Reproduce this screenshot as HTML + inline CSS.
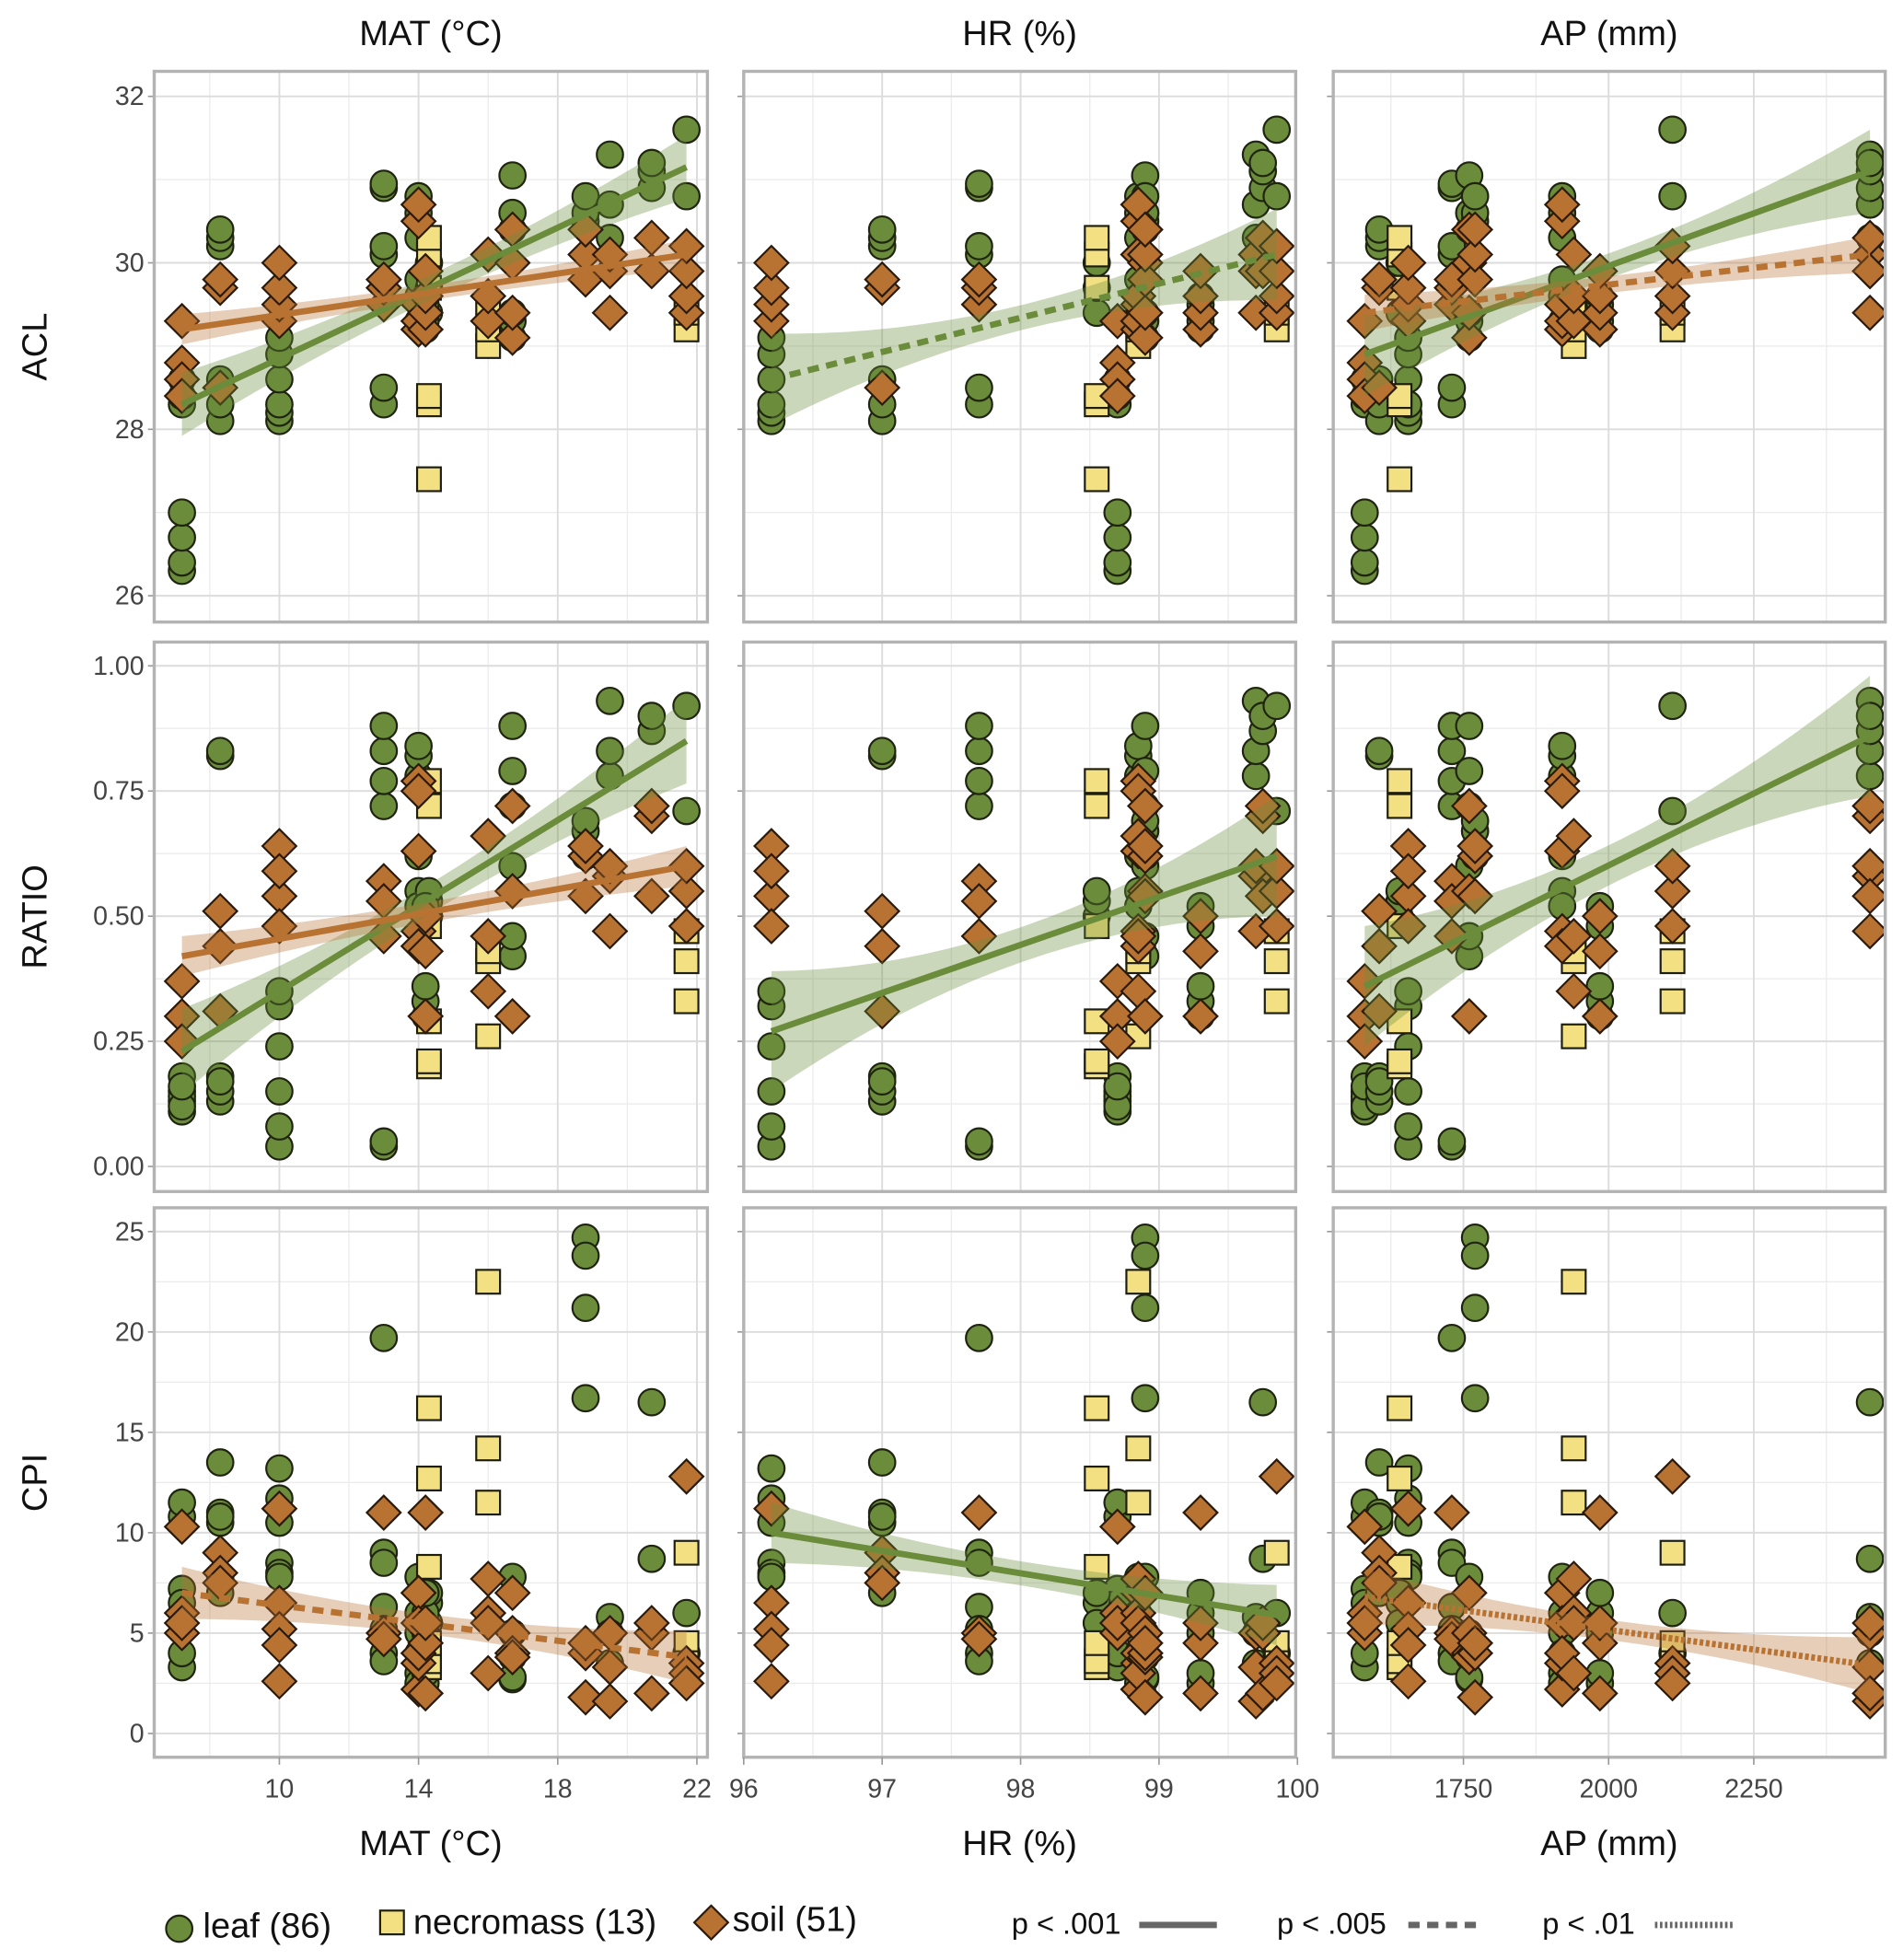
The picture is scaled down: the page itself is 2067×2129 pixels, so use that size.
<!DOCTYPE html>
<html><head><meta charset="utf-8"><style>
html,body{margin:0;padding:0;background:#fff;}
svg{display:block;font-family:"Liberation Sans",Arial,sans-serif;}
</style></head><body>
<svg id="chart" width="2067" height="2129" viewBox="0 0 1520 1566" xmlns="http://www.w3.org/2000/svg">
<g id="layer"></g>
</svg>
<script>
// ---- data ----
const colVars = ["MAT (\u00B0C)", "HR (%)", "AP (mm)"];
const rowVars = ["ACL", "RATIO", "CPI"];
const siteMAT = [7.2, 8.3, 10.0, 13.0, 14.0, 14.3, 16.0, 16.7, 18.8, 19.5, 20.7, 21.7, 14.2];
const siteHR  = [98.7, 97.0, 96.2, 97.7, 98.85, 98.55, 98.85, 98.9, 98.9, 99.7, 99.75, 99.85, 99.3];
const siteAP  = [1580, 1605, 1655, 1730, 1920, 1640, 1940, 1760, 1770, 2450, 2450, 2110, 1985];
const leafACL = [[26.3,26.4,26.7,27.0,28.3,28.4,28.6],[28.1,28.3,28.6,30.2,30.3,30.4],[28.1,28.2,28.3,28.6,28.9,29.1],[28.3,28.5,30.1,30.2,30.9,30.95],[29.3,29.6,29.8,30.3,30.6,30.8],[29.4,29.7,30.0],[],[29.1,29.3,29.4,30.4,30.6,31.05],[30.5,30.6,30.8],[30.3,30.7,31.3],[30.9,31.1,31.2],[30.8,31.6],[29.2,29.3,29.4,29.5,29.6]];
const leafRATIO = [[0.11,0.13,0.15,0.18,0.14,0.12,0.16],[0.82,0.83,0.13,0.15,0.18,0.17],[0.04,0.08,0.15,0.24,0.32,0.35],[0.04,0.05,0.72,0.77,0.83,0.88],[0.62,0.55,0.52,0.78,0.82,0.84],[0.50,0.53,0.55],[],[0.42,0.46,0.6,0.72,0.79,0.88],[0.62,0.67,0.69],[0.78,0.83,0.93],[0.87,0.9],[0.71,0.92],[0.3,0.33,0.36,0.48,0.52]];
const leafCPI = [[3.3,4,5.5,7.2,10.8,11.5,6.5],[10.5,11,13.5,10.8,7,7.8],[13.2,11.7,10.5,8.5,8,7.8],[19.7,9,8.5,6.3,5.2,4,3.6],[7.8,6,5,3,2.5,4],[6.5,7,5.5],[],[7.8,5,3.8,2.7,2.8],[24.7,23.8,21.2,16.7],[5.8,5,3.5],[16.5,8.7],[6,4],[2.5,3,5,6,7]];
const soilACL = [[29.3,28.8,28.6,28.4],[29.7,29.8,28.5],[29.3,29.5,29.7,30.0],[29.5,29.7,29.8],[29.2,29.3,29.5,30.5,30.7],[],[29.3,29.6,30.1],[29.1,29.4,30.0,30.4],[29.8,30.1,30.4],[29.4,29.9,30.1],[29.9,30.3],[29.4,29.6,29.9,30.2],[29.2,29.4,29.6,29.9]];
const soilRATIO = [[0.37,0.30,0.25],[0.51,0.44,0.31],[0.64,0.54,0.48,0.59],[0.57,0.53,0.46],[0.77,0.75,0.63,0.47,0.44],[],[0.35,0.46,0.66],[0.30,0.55,0.72],[0.54,0.62,0.64],[0.47,0.58,0.6],[0.54,0.7,0.72],[0.48,0.55,0.6],[0.3,0.43,0.5]];
const soilCPI = [[10.3,6,5,5.5],[9,8,7.5],[11.2,6.5,5.2,4.4,2.6],[11,5,4.7],[7,5.5,2.2,3.5,4],[],[7.7,6,5.5,3],[7,5,4,3.8],[4,1.8,4.5],[1.6,3.3,5],[2,5,5.5],[12.8,3.5,3,2.5],[2,4.5,5.5,11]];
const necroACL = [[],[],[],[],[],[27.4,28.3,28.4,29.7,30.1,30.3],[29.0,29.2,29.4],[],[],[],[],[29.2,29.4],[]];
const necroRATIO = [[],[],[],[],[],[0.20,0.21,0.29,0.72,0.77,0.48],[0.26,0.41,0.43],[],[],[],[],[0.33,0.41,0.47],[]];
const necroCPI = [[],[],[],[],[],[16.2,12.7,8.3,3.3,3.6,4.5],[22.5,14.2,11.5],[],[],[],[],[9,4.5,3.5],[]];
// fitted lines: [row, col, series, x0, y0, x1, y1, halfBandEnds, halfBandMid, style]
const fitRow = [0,0,0,0,0,1,1,1,1,2,2,2];
const fitCol = [0,0,1,2,2,0,0,1,2,0,1,2];
const fitSeries = ["leaf","soil","leaf","leaf","soil","leaf","soil","leaf","leaf","soil","leaf","soil"];
const fitX0 = [7.2,7.2,96.2,1580,1580,7.2,7.2,96.2,1580,7.2,96.2,1580];
const fitY0 = [28.3,29.2,28.6,28.9,29.4,0.23,0.42,0.27,0.36,7.0,10.0,6.8];
const fitX1 = [21.7,21.7,99.85,2450,2450,21.7,21.7,99.85,2450,21.7,99.85,2450];
const fitY1 = [31.15,30.1,30.1,31.1,30.1,0.85,0.60,0.62,0.86,3.8,5.9,3.4];
const fitBandEnd = [0.38,0.18,0.55,0.5,0.22,0.085,0.04,0.12,0.12,1.3,1.5,1.4];
const fitBandMid = [0.15,0.09,0.15,0.15,0.1,0.03,0.02,0.035,0.04,0.5,0.6,0.5];
const fitStyle = ["solid","solid","dashed","solid","dashed","solid","solid","solid","solid","dashed","solid","dotted"];
const xTicksMAT = [10,14,18,22], xTicksHR=[96,97,98,99,100], xTicksAP=[1750,2000,2250];
const yTicksACL = [26,28,30,32], yTicksRATIO=[0,0.25,0.5,0.75,1], yTicksCPI=[0,5,10,15,20,25];
const yLabelsRATIO = ["0.00","0.25","0.50","0.75","1.00"];

// ---- layout ----
const NS="http://www.w3.org/2000/svg";
const layer=document.getElementById('layer');
function mk(tag,attrs,parent){const e=document.createElementNS(NS,tag);for(const k in attrs)e.setAttribute(k,attrs[k]);(parent||layer).appendChild(e);return e;}
const colL=[123,594,1065], colR=[565,1035,1506];
const rowT=[57,513,965], rowB=[497,952,1404];
const xScales=[v=>223+(v-10)*27.8, v=>594+(v-96)*110.6, v=>1285+(v-2000)*0.464];
const yScales=[v=>210-(v-30)*66.5, v=>932-v*400, v=>1385-v*16.04];
const xTickSets=[xTicksMAT,xTicksHR,xTicksAP];
const yTickSets=[yTicksACL,yTicksRATIO,yTicksCPI];
const xMinor=[[8,12,16,20],[96.5,97.5,98.5,99.5],[1625,1875,2125,2375]];
const yMinor=[[27,29,31],[0.125,0.375,0.625,0.875],[2.5,7.5,12.5,17.5,22.5]];
const siteX=[siteMAT,siteHR,siteAP];
const COL={leaf:"#6b8c3b",soil:"#b87333",necro:"#f2e083"};
const rowData=[[leafACL,necroACL,soilACL],[leafRATIO,necroRATIO,soilRATIO],[leafCPI,necroCPI,soilCPI]];

function drawMarker(type,x,y,g){
  let e;
  if(type==="leaf"){e=mk('circle',{cx:x,cy:y,r:10.5,fill:COL.leaf,stroke:"#1e2410","stroke-width":1.6},g);}
  else if(type==="necro"){e=mk('rect',{x:x-9.5,y:y-9.5,width:19,height:19,fill:COL.necro,stroke:"#1e1e10","stroke-width":1.6},g);}
  else {e=mk('polygon',{points:`${x},${y-13.5} ${x+13.5},${y} ${x},${y+13.5} ${x-13.5},${y}`,fill:COL.soil,stroke:"#2a1a0c","stroke-width":1.6},g);}
  return e;
}

// titles
for(let c=0;c<3;c++){
  const cx=(colL[c]+colR[c])/2;
  const t=mk('text',{x:cx,y:36,"text-anchor":"middle","font-size":28,fill:"#111"});t.textContent=colVars[c];
  
  
  const b=mk('text',{x:cx,y:1482,"text-anchor":"middle","font-size":28,fill:"#111"});b.textContent=colVars[c];
  
  
}
for(let r=0;r<3;r++){
  const cy=(rowT[r]+rowB[r])/2;
  const t=mk('text',{x:0,y:0,transform:`translate(37,${cy}) rotate(-90)`,"text-anchor":"middle","font-size":28,fill:"#111"});t.textContent=rowVars[r];
  
  
}

for(let r=0;r<3;r++){
 for(let c=0;c<3;c++){
  const g=mk('g',{});
  
  
  const L=colL[c],R=colR[c],T=rowT[r],B=rowB[r];
  const xs=xScales[c], ys=yScales[r];
  const clipId='clip'+r+c;
  const cp=mk('clipPath',{id:clipId},g);mk('rect',{x:L,y:T,width:R-L,height:B-T},cp);
  // minor grid
  xMinor[c].forEach(v=>{const x=xs(v);if(x>L&&x<R)mk('line',{x1:x,x2:x,y1:T,y2:B,stroke:"#ececec","stroke-width":1},g);});
  yMinor[r].forEach(v=>{const y=ys(v);mk('line',{x1:L,x2:R,y1:y,y2:y,stroke:"#ececec","stroke-width":1},g);});
  xTickSets[c].forEach(v=>{const x=xs(v);if(x>L+1&&x<R-1)mk('line',{x1:x,x2:x,y1:T,y2:B,stroke:"#dcdcdc","stroke-width":1.4},g);
    if(r===2){mk('line',{x1:x,x2:x,y1:B,y2:B+6,stroke:"#999","stroke-width":1.2});
      const t=mk('text',{x:x,y:B+32,"text-anchor":"middle","font-size":21,fill:"#444"});t.textContent=v;
      
      }});
  yTickSets[r].forEach((v,i)=>{const y=ys(v);mk('line',{x1:L,x2:R,y1:y,y2:y,stroke:"#dcdcdc","stroke-width":1.4},g);
    mk('line',{x1:L-5,x2:L,y1:y,y2:y,stroke:"#999","stroke-width":1.2},g);
    if(c===0){const t=mk('text',{x:L-8,y:y+7,"text-anchor":"end","font-size":21,fill:"#444"});t.textContent=r===1?yLabelsRATIO[i]:v;
      
      }});
  // points
  const pts=mk('g',{"clip-path":`url(#${clipId})`},g);
  const types=["leaf","necro","soil"];
  const order=[0,1,2];
  order.forEach(k=>{
    rowData[r][k].forEach((vals,s)=>{vals.forEach(v=>{
      const m=drawMarker(types[k],xs(siteX[c][s]),ys(v),pts);
      
      
    });});
  });
  // fits
  for(let f=0;f<fitRow.length;f++){
    if(fitRow[f]!==r||fitCol[f]!==c)continue;
    const col=fitSeries[f]==="leaf"?"#6b8c3b":"#b87333";
    const n=20, up=[], lo=[];
    for(let i=0;i<=n;i++){const t=i/n;const xv=fitX0[f]+(fitX1[f]-fitX0[f])*t;const yv=fitY0[f]+(fitY1[f]-fitY0[f])*t;
      const h=fitBandMid[f]+(fitBandEnd[f]-fitBandMid[f])*Math.pow(2*t-1,2);
      up.push(xs(xv)+','+ys(yv+h));lo.unshift(xs(xv)+','+ys(yv-h));}
    const band=mk('polygon',{points:up.concat(lo).join(' '),fill:col,"fill-opacity":0.35},g);
    
    
    const dash=fitStyle[f]==="dashed"?"9,6":fitStyle[f]==="dotted"?"3,2":"none";
    const ln=mk('line',{x1:xs(fitX0[f]),y1:ys(fitY0[f]),x2:xs(fitX1[f]),y2:ys(fitY1[f]),stroke:col,"stroke-width":5,"stroke-dasharray":dash},g);
    
    
  }
  mk('rect',{x:L,y:T,width:R-L,height:B-T,fill:"none",stroke:"#b3b3b3","stroke-width":2.5},g);
 }
}
// legend
const lg=mk('g',{});


drawMarker("leaf",143,1541,lg);
drawMarker("necro",313,1536,lg);
drawMarker("soil",568,1536,lg);
[["leaf (86)",162,1548],["necromass (13)",330,1545],["soil (51)",585,1543],["p < .001",808,1545],["p < .005",1020,1545],["p < .01",1232,1545]].forEach(a=>{
  const t=mk('text',{x:a[1],y:a[2],"font-size":a[0].startsWith('p')?24:28,fill:"#111"},lg);t.textContent=a[0];
  
  
});
mk('line',{x1:910,x2:972,y1:1538,y2:1538,stroke:"#666","stroke-width":5},lg);
mk('line',{x1:1125,x2:1185,y1:1538,y2:1538,stroke:"#666","stroke-width":5,"stroke-dasharray":"9,6"},lg);
mk('line',{x1:1322,x2:1385,y1:1538,y2:1538,stroke:"#666","stroke-width":5,"stroke-dasharray":"2,2"},lg);
</script>
</body></html>
